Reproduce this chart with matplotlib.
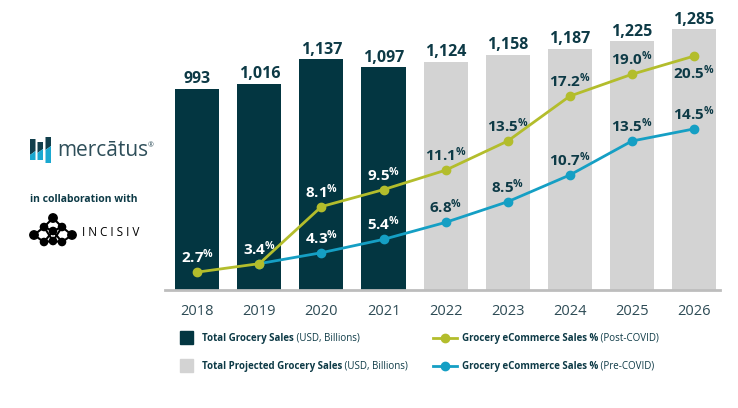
import numpy as np
import matplotlib
matplotlib.use("Agg")
import matplotlib.pyplot as plt
import matplotlib.patches as patches
from matplotlib.lines import Line2D

plt.rcParams['font.family'] = ['Open Sans', 'DejaVu Sans']
plt.rcParams['mathtext.fontset'] = 'custom'
plt.rcParams['mathtext.rm'] = 'Open Sans:bold'
plt.rcParams['mathtext.default'] = 'rm'

years = ['2018', '2019', '2020', '2021', '2022', '2023', '2024', '2025', '2026']
sales = [993, 1016, 1137, 1097, 1124, 1158, 1187, 1225, 1285]
projected = [False, False, False, False, True, True, True, True, True]
post_covid = [2.7, 3.4, 8.1, 9.5, 11.1, 13.5, 17.2, 19.0, 20.5]
pre_covid = [np.nan, 3.4, 4.3, 5.4, 6.8, 8.5, 10.7, 13.5, 14.5]

DARK = '#033641'
GRAY = '#d3d3d3'
GREEN = '#b3bd2c'
BLUE = '#159fc4'
TXT = '#0d3a46'

fig = plt.figure(figsize=(7.38, 4.08), dpi=100)
ax = fig.add_axes([0.2236, 0.289, 0.752, 0.6865])
x = np.arange(len(years))
colors = [GRAY if p else DARK for p in projected]
ax.bar(x, sales, width=0.71, color=colors, zorder=1)
for i, v in enumerate(sales):
    ax.annotate(f"{v:,}", (i, v), xytext=(0, 7), textcoords='offset points',
                ha='center', va='center', fontsize=11.5, fontweight='bold', color=TXT)
ax.set_xlim(-0.52, 8.42)
ax.set_ylim(0, 1380)
ax.set_yticks([])
for s in ['top', 'right', 'left']:
    ax.spines[s].set_visible(False)
ax.spines['bottom'].set_color('#bdbdbd')
ax.spines['bottom'].set_linewidth(2)
ax.set_xticks(x)
ax.set_xticklabels(years, fontsize=10.5, color='#2d4b55')
ax.tick_params(axis='x', length=0, pad=10)

ax2 = ax.twinx()
ax2.set_ylim(1.22, 24.3)
ax2.set_yticks([])
for s in ['top', 'right', 'left', 'bottom']:
    ax2.spines[s].set_visible(False)
ax2.plot(x, pre_covid, color=BLUE, lw=2, marker='o', ms=6, zorder=3)
ax2.plot(x, post_covid, color=GREEN, lw=2, marker='o', ms=6, zorder=4)


def pct_label(xi, v, dy, dark_bg):
    c = 'white' if dark_bg else TXT
    ax2.annotate(f"{v:.1f}$^{{\\%}}$", (xi, v), xytext=(0, dy), textcoords='offset points',
                 ha='center', va='center', fontsize=11, fontweight='bold', color=c, zorder=5)


for i, v in enumerate(post_covid):
    dy = -12 if i == 8 else 11
    pct_label(i, v, dy, not projected[i])
for i, v in enumerate(pre_covid):
    if i < 2:
        continue
    pct_label(i, v, 11, not projected[i])


def two_part(xp, yp, bold, normal, size=7.0):
    t = fig.text(xp / 738, 1 - yp / 408, bold, fontsize=size, fontweight='bold',
                 color=TXT, va='center')
    ax.annotate(" " + normal, xy=(1, 0.5), xycoords=t, va='center', ha='left',
                fontsize=size, color=TXT, annotation_clip=False)


# legend
fig.patches.append(patches.Rectangle((180 / 738, 1 - 344 / 408), 13 / 738, 13 / 408,
                                     transform=fig.transFigure, color=DARK))
fig.patches.append(patches.Rectangle((180 / 738, 1 - 372 / 408), 13 / 738, 13 / 408,
                                     transform=fig.transFigure, color=GRAY))
two_part(202, 338, "Total Grocery Sales", "(USD, Billions)")
two_part(202, 366, "Total Projected Grocery Sales", "(USD, Billions)")
for yy, col in [(338, GREEN), (366, BLUE)]:
    fig.lines.append(Line2D([433 / 738, 457 / 738], [1 - yy / 408, 1 - yy / 408], lw=2,
                            color=col, transform=fig.transFigure))
    fig.lines.append(Line2D([445 / 738], [1 - yy / 408], color=col, marker='o', ms=6,
                            transform=fig.transFigure))
two_part(462, 338, "Grocery eCommerce Sales %", "(Post-COVID)")
two_part(462, 366, "Grocery eCommerce Sales %", "(Pre-COVID)")

# mercatus logo
lg = fig.add_axes([0, 0, 1, 1], facecolor='none')
lg.set_xlim(0, 738)
lg.set_ylim(408, 0)
lg.axis('off')
for x0, x1, top, bot, split in [(30, 35.5, 139, 160, 153), (37.5, 43, 142, 160, 151),
                                (45.5, 51, 137, 163, 148)]:
    lg.add_patch(patches.Polygon([(x0, top), (x1, top), (x1, split - 2), (x0, split + 2)],
                                 closed=True, color='#123f4c', lw=0))
    lg.add_patch(patches.Polygon([(x0, split + 2), (x1, split - 2), (x1, bot), (x0, bot)],
                                 closed=True, color='#1aa8d0', lw=0))
mt = lg.text(57, 151, "mercātus", fontsize=15, color='#2f4f5a', va='center')
lg.annotate("®", xy=(1, 0.75), xycoords=mt, fontsize=5, color='#2f4f5a', va='center')
lg.text(30, 200, "in collaboration with", fontsize=7.5, fontweight='bold', color=TXT,
        va='center')
# incisiv logo
nodes = [(34, 235), (44, 227), (44, 242), (53, 218), (53, 231), (62, 227), (62, 242),
         (72, 235), (53, 241)]
edges = [(0, 1), (0, 2), (1, 3), (3, 5), (1, 4), (4, 5), (2, 4), (4, 6), (1, 8), (8, 5),
         (5, 7), (6, 7), (2, 8), (8, 6)]
for a, b in edges:
    lg.plot([nodes[a][0], nodes[b][0]], [nodes[a][1], nodes[b][1]], color='black', lw=1.5)
for i, (nx, ny) in enumerate(nodes):
    r = 4.2 if i in (0, 7, 3) else 3.6
    lg.add_patch(patches.Circle((nx, ny), r, color='black'))
lg.text(82, 232, "I N C I S I V", fontsize=8.5, color='black', va='center')

fig.savefig('out.png', dpi=100)
